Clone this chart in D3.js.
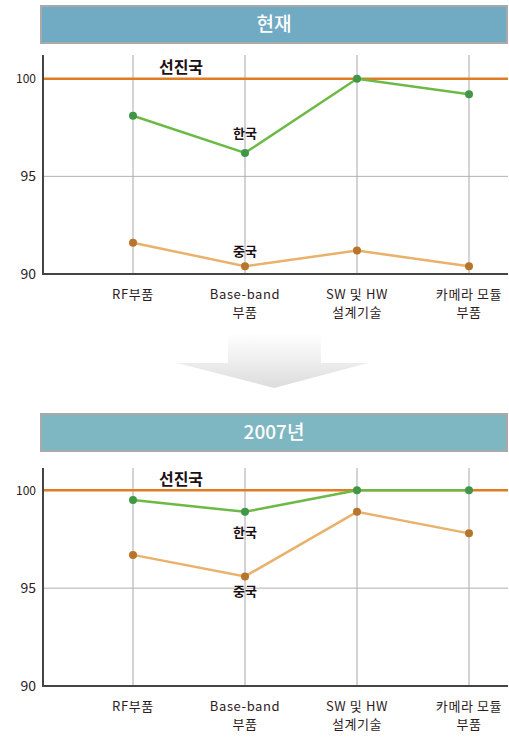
<!DOCTYPE html>
<html>
<head>
<meta charset="utf-8">
<script src="https://cdn.jsdelivr.net/npm/d3@7"></script>
<style>
  body { margin: 0; background: #fff; }
  svg { display: block; font-family: 'Noto Sans CJK KR', 'Noto Sans', sans-serif; }
</style>
</head>
<body>
<svg width="509" height="738"></svg>
<script>
const categories = [['RF부품'], ['Base-band', '부품'], ['SW 및 HW', '설계기술'], ['카메라 모듈', '부품']];
const yTicks = [90, 95, 100];
const advanced = 100;

const panels = [
  { title: '현재', fill: '#70aac3', top: 6, axisTop: 55, y100: 78.7, y90: 274,
    korea: [98.1, 96.2, 100, 99.2], china: [91.6, 90.4, 91.2, 90.4],
    koreaLabel: [245, 133], chinaLabel: [245, 251] },
  { title: '2007년', fill: '#7eb6c2', top: 414, axisTop: 468, y100: 490.3, y90: 686,
    korea: [99.5, 98.9, 100, 100], china: [96.7, 95.6, 98.9, 97.8],
    koreaLabel: [245, 532], chinaLabel: [245, 591] }
];

const svg = d3.select('svg');
const textColor = '#2e1b24';

const defs = svg.append('defs');
const grad = defs.append('linearGradient').attr('id', 'arrowGrad')
  .attr('x1', 0).attr('y1', 0).attr('x2', 0).attr('y2', 1);
grad.append('stop').attr('offset', '0%').attr('stop-color', '#ffffff');
grad.append('stop').attr('offset', '45%').attr('stop-color', '#f0f0f0');
grad.append('stop').attr('offset', '100%').attr('stop-color', '#dcdcdc');

panels.forEach(p => {
  const g = svg.append('g');
  // header bar
  g.append('rect')
    .attr('x', 41).attr('y', p.top)
    .attr('width', 466).attr('height', 37)
    .attr('fill', p.fill).attr('stroke', '#a9a9a9').attr('stroke-width', 2);
  g.append('text')
    .attr('x', 274).attr('y', p.top + 18.5).attr('dy', '0.36em')
    .attr('text-anchor', 'middle').attr('fill', '#fff')
    .style('font-size', '19px').style('font-weight', 500)
    .text(p.title);

  const x = d3.scalePoint().domain(d3.range(categories.length)).range([133, 469]);
  const y = d3.scaleLinear().domain([90, 100]).range([p.y90, p.y100]);

  // grid
  g.append('g').selectAll('line').data(d3.range(categories.length)).join('line')
    .attr('x1', d => x(d)).attr('x2', d => x(d))
    .attr('y1', p.axisTop).attr('y2', p.y90)
    .attr('stroke', '#a8a8a8').attr('stroke-width', 1);
  g.append('line')
    .attr('x1', 43).attr('x2', 508).attr('y1', y(95)).attr('y2', y(95))
    .attr('stroke', '#b0b0b0').attr('stroke-width', 1);

  // y tick labels
  g.append('g').selectAll('text').data(yTicks).join('text')
    .attr('x', 36).attr('y', d => y(d)).attr('dy', '0.35em')
    .attr('text-anchor', 'end').attr('fill', textColor)
    .style('font-size', d => d === 100 ? '12px' : '14px')
    .text(d => d);

  // x labels, one text per line
  categories.forEach((lines, i) => {
    lines.forEach((t, j) => {
      g.append('text')
        .attr('x', x(i)).attr('y', p.y90 + 20 + j * 18).attr('dy', '0.35em')
        .attr('text-anchor', 'middle').attr('fill', textColor)
        .style('font-size', '13px').style('letter-spacing', '0.6px')
        .text(t);
    });
  });

  // advanced-country line
  g.append('line')
    .attr('x1', 43).attr('x2', 508).attr('y1', y(advanced)).attr('y2', y(advanced))
    .attr('stroke', '#e07d24').attr('stroke-width', 2.5);
  g.append('text')
    .attr('x', 181).attr('y', y(advanced) - 11).attr('dy', '0.35em')
    .attr('text-anchor', 'middle').attr('fill', '#1a1014')
    .style('font-size', '16px').style('font-weight', 700)
    .text('선진국');

  const line = d3.line().x((d, i) => x(i)).y(d => y(d));

  const series = [
    { values: p.china, stroke: '#e9b26c', dot: '#b8742a', label: '중국', pos: p.chinaLabel },
    { values: p.korea, stroke: '#6cba45', dot: '#3f9747', label: '한국', pos: p.koreaLabel }
  ];
  series.forEach(s => {
    g.append('path').datum(s.values)
      .attr('d', line).attr('fill', 'none')
      .attr('stroke', s.stroke).attr('stroke-width', 2.5);
    g.append('g').selectAll('circle').data(s.values).join('circle')
      .attr('cx', (d, i) => x(i)).attr('cy', d => y(d)).attr('r', 4)
      .attr('fill', s.dot);
    g.append('text')
      .attr('x', s.pos[0]).attr('y', s.pos[1]).attr('dy', '0.35em')
      .attr('text-anchor', 'middle').attr('fill', '#1a1014')
      .style('font-size', '13px').style('font-weight', 700)
      .text(s.label);
  });

  // axes
  g.append('line')
    .attr('x1', 43).attr('x2', 43).attr('y1', p.axisTop).attr('y2', p.y90 + 1)
    .attr('stroke', '#444').attr('stroke-width', 2);
  g.append('line')
    .attr('x1', 42).attr('x2', 508).attr('y1', p.y90).attr('y2', p.y90)
    .attr('stroke', '#444').attr('stroke-width', 2);
});

// arrow between panels
svg.append('path')
  .attr('d', 'M228,333 L321,333 L321,363 L368,363 L274,388 L177,363 L228,363 Z')
  .attr('fill', 'url(#arrowGrad)');
</script>
</body>
</html>
